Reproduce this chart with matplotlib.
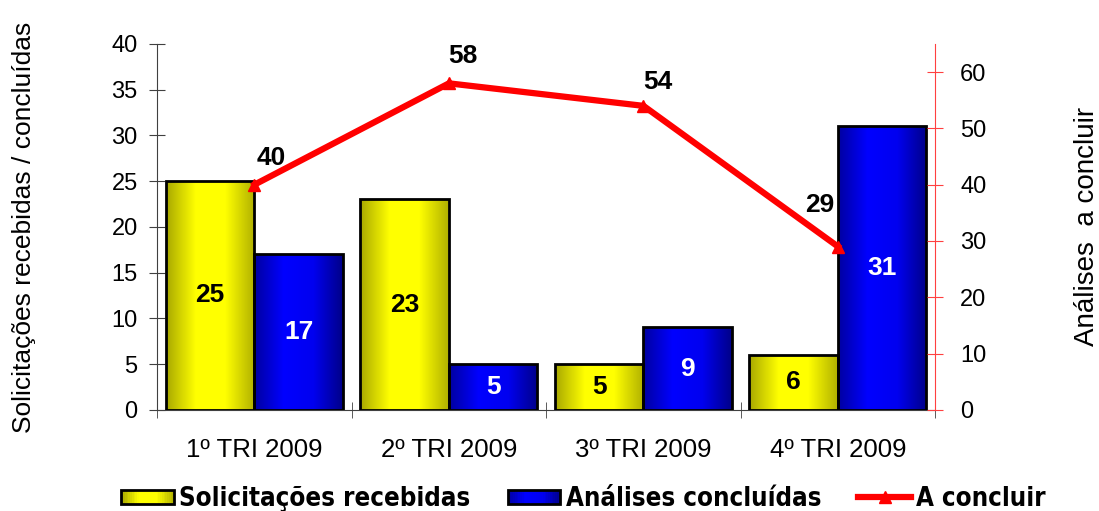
import numpy as np
import matplotlib
matplotlib.use("Agg")
import matplotlib.pyplot as plt
from matplotlib import font_manager
from matplotlib.colors import LinearSegmentedColormap
from matplotlib.patches import Patch, Rectangle
from matplotlib.lines import Line2D
from matplotlib.legend_handler import HandlerBase

plt.rcParams['font.family'] = ['Liberation Sans', 'DejaVu Sans']

categories = ['1º TRI 2009', '2º TRI 2009', '3º TRI 2009', '4º TRI 2009']
recebidas = [25, 23, 5, 6]
concluidas = [17, 5, 9, 31]
a_concluir = [40, 58, 54, 29]
# offsets (points) for the line labels
label_offsets = [(12, 19), (10, 20), (10, 17), (-13, 30)]

yellow_cmap = LinearSegmentedColormap.from_list('yel', ['#a8a800', '#ffff00', '#ffff00', '#b0b000'])
blue_cmap = LinearSegmentedColormap.from_list('blu', ['#0000a0', '#0000ff', '#0000f0', '#000088'])

# condensed bold font for the legend, if there is one
try:
    font_manager.findfont('Liberation Sans Narrow', fallback_to_default=False)
    legend_font = {'size': 20, 'weight': 'bold', 'family': ['Liberation Sans Narrow']}
except ValueError:
    legend_font = {'size': 18.5, 'weight': 'bold', 'family': ['DejaVu Sans'], 'stretch': 'condensed'}

fig = plt.figure(figsize=(10.99, 5.11), dpi=100)
ax = fig.add_axes([0.143, 0.198, 0.708, 0.716])
ax2 = ax.twinx()

x = np.arange(len(categories))
w = 0.455
grad = np.linspace(0, 1, 256).reshape(1, -1)


def gradient_bars(xs, heights, cmap):
    for xc, h in zip(xs, heights):
        ax.imshow(grad, cmap=cmap, aspect='auto', extent=(xc - w / 2, xc + w / 2, 0, h), zorder=2)
        ax.bar(xc, h, width=w, facecolor='none', edgecolor='black', linewidth=2, zorder=3)


gradient_bars(x - w / 2, recebidas, yellow_cmap)
gradient_bars(x + w / 2, concluidas, blue_cmap)

for xc, h in zip(x - w / 2, recebidas):
    ax.text(xc, h / 2, str(h), ha='center', va='center', fontsize=19, fontweight='bold', color='black', zorder=4)
for xc, h in zip(x + w / 2, concluidas):
    ax.text(xc, h / 2, str(h), ha='center', va='center', fontsize=19, fontweight='bold', color='white', zorder=4)

ax.set_xlim(-0.5, len(categories) - 0.5)
ax.set_ylim(0, 40)
ax.set_yticks(range(0, 41, 5))
ax.set_xticks(x)
ax.set_xticklabels(categories, fontsize=18.5)
ax.set_xticks(np.arange(-0.5, len(categories)), minor=True)
ax.tick_params(axis='x', which='major', length=0, pad=20)
ax.tick_params(axis='x', which='minor', direction='inout', length=12, color='#404040')
ax.tick_params(axis='y', direction='inout', length=12, color='#404040', labelsize=17, pad=8)
ax.set_ylabel('Solicitações recebidas / concluídas', fontsize=19, labelpad=54)
for s in ['top', 'right']:
    ax.spines[s].set_visible(False)
ax.spines['left'].set_color('#404040')
ax.spines['bottom'].set_color('#404040')
ax.set_zorder(1)
ax.patch.set_visible(False)

ax2.plot(x, a_concluir, color='#ff0000', linewidth=4.5, marker='^', markersize=8, zorder=5)
for xc, v, off in zip(x, a_concluir, label_offsets):
    ax2.annotate(str(v), (xc, v), xytext=off, textcoords='offset points', ha='center', va='center',
                 fontsize=19, fontweight='bold')
ax2.set_ylim(0, 65)
ax2.set_yticks(range(0, 61, 10))
ax2.tick_params(axis='y', direction='inout', length=12, color='#ff4040', labelsize=17, pad=12)
ax2.set_ylabel('Análises  a concluir', fontsize=20, labelpad=63)
for s in ['top', 'left', 'bottom']:
    ax2.spines[s].set_visible(False)
ax2.spines['right'].set_color('#ff4040')
ax2.set_zorder(2)


class GradientHandler(HandlerBase):
    def __init__(self, cmap):
        super().__init__()
        self.cmap = cmap

    def create_artists(self, legend, orig_handle, xdescent, ydescent, width, height, fontsize, trans):
        h = height * 0.85
        y0 = -ydescent + (height - h) / 2
        n = 30
        arts = []
        for i in range(n):
            arts.append(Rectangle((-xdescent + width * i / n, y0), width / n + 0.3, h,
                                  facecolor=self.cmap((i + 0.5) / n), edgecolor='none', transform=trans))
        arts.append(Rectangle((-xdescent, y0), width, h, facecolor='none', edgecolor='black',
                              linewidth=2, transform=trans))
        return arts


yel_handle = Patch(facecolor='#eeee00')
blu_handle = Patch(facecolor='#0000e0')
line_handle = Line2D([], [], color='#ff0000', linewidth=4.5, marker='^', markersize=8)
handles = [yel_handle, blu_handle, line_handle]
labels = ['Solicitações recebidas', 'Análises concluídas', 'A concluir']
fig.legend(handles, labels, loc='lower center', bbox_to_anchor=(0.531, -0.047), ncol=3, frameon=False,
           prop=legend_font, handlelength=2.05, handleheight=0.6, handletextpad=0.2, columnspacing=1.45,
           handler_map={yel_handle: GradientHandler(yellow_cmap), blu_handle: GradientHandler(blue_cmap)})

fig.savefig('out.png', dpi=100)
